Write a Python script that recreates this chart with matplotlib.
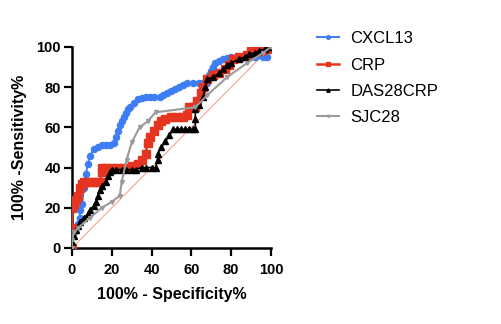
import matplotlib.pyplot as plt

# ROC curves, values in percent
cxcl13_x = [0, 1, 2, 3, 4, 4, 5, 6, 7, 8, 9, 11, 13, 15, 17, 19, 21, 22, 23, 24, 25, 26, 27, 28,
            29, 31, 33, 35, 37, 39, 41, 44, 46, 48, 50, 52, 54, 56, 58, 61, 64, 66, 68, 69, 70,
            71, 72, 74, 76, 78, 80, 83, 86, 89, 92, 94, 96, 98, 100]
cxcl13_y = [0, 8, 10, 12, 15, 19, 22, 30, 37, 42, 46, 49, 50, 51, 51, 51, 52, 55, 58, 61, 63, 65,
            67, 69, 70, 72, 74, 74.5, 75, 75, 75, 75, 76, 77, 78, 79, 80, 81, 82, 82, 82, 82, 82,
            86, 88, 90, 92, 93, 94, 94.5, 95, 95, 95, 95, 95, 96, 95, 95, 100]

crp_x = [0, 0, 0, 1, 2, 3, 4, 5, 6, 8, 10, 12, 14, 15, 15, 17, 20, 23, 26, 28, 30, 33, 35, 37,
         38, 39, 41, 43, 45, 47, 50, 53, 56, 58, 59, 61, 62, 63, 65, 66, 68, 71, 74, 77, 79,
         81, 84, 88, 90, 93, 95, 98, 100]
crp_y = [0, 10, 20, 22, 24, 26, 30, 32, 33, 33, 33, 33, 33, 38, 40, 40, 40, 40, 40, 40, 41, 42,
         44, 47, 52, 55, 58, 61, 63, 64, 65, 65, 65, 66, 70, 70, 70, 73, 77, 80, 84, 86, 87,
         89, 91, 94, 95, 96, 98, 98, 98, 99, 100]

das_x = [0, 0, 1, 2, 3, 4, 6, 8, 9, 11, 12, 13, 14, 15, 17, 18, 19, 20, 22, 25, 27, 30, 32,
         35, 37, 40, 42, 43, 43, 45, 47, 49, 51, 53, 55, 57, 59, 61, 62, 62, 62, 64, 66, 67, 68,
         71, 74, 76, 78, 80, 84, 87, 89, 92, 94, 97, 100]
das_y = [0, 3, 6, 9, 11, 13, 15, 17, 19, 21, 23, 26, 29, 31, 33, 36, 38, 39, 39, 39, 39, 39,
         39, 40, 40, 40, 40, 44, 47, 50, 53, 56, 59, 59, 59, 59, 59, 59, 59, 64, 69, 71, 75, 80,
         84, 85, 87, 89, 91, 92, 94, 95, 96.5, 97, 98, 99, 100]

sjc_x = [0, 0, 1, 3, 9, 15, 20, 24, 25, 27.5, 30, 34, 38, 42, 62, 68, 78, 88, 96, 100]
sjc_y = [0, 4, 8, 10, 15, 20, 23, 26, 33, 44, 52.5, 60, 63, 67.5, 70, 76, 85, 92, 97, 100]

labels = ['CXCL13', 'CRP', 'DAS28CRP', 'SJC28']

plt.rcParams['font.family'] = ['Liberation Sans', 'DejaVu Sans']

fig = plt.figure(figsize=(5.01, 3.24), dpi=100)
ax = fig.add_axes([0.1437, 0.2346, 0.397, 0.6204])

# chance line
ax.plot([0, 100], [0, 100], color='#f2a593', lw=0.8, zorder=1)

ax.plot(cxcl13_x, cxcl13_y, color='#3d7ef5', lw=1.4, marker='o', ms=4.4,
        label=labels[0], zorder=3)
ax.plot(crp_x, crp_y, color='#e5341f', lw=1.8, marker='s', ms=5.2,
        label=labels[1], zorder=4)
ax.plot(das_x, das_y, color='black', lw=1.2, marker='^', ms=4.0,
        label=labels[2], zorder=5)
ax.plot(sjc_x, sjc_y, color='#9a9a9a', lw=1.5, marker='v', ms=2.8,
        label=labels[3], zorder=6)

ax.set_xlim(0, 100)
ax.set_ylim(0, 100)
ax.set_xticks(range(0, 101, 20))
ax.set_yticks(range(0, 101, 20))
for s in ['top', 'right']:
    ax.spines[s].set_visible(False)
for s in ['left', 'bottom']:
    ax.spines[s].set_linewidth(1.8)
ax.tick_params(direction='out', length=6, width=1.6, labelsize=10.5)
ax.tick_params(axis='x', pad=5)
ax.tick_params(axis='y', pad=2)
for lab in ax.get_xticklabels() + ax.get_yticklabels():
    lab.set_fontweight('bold')
ax.set_xlabel('100% - Specificity%', fontsize=11.5, fontweight='bold', labelpad=7)
ax.set_ylabel('100% -Sensitivity%', fontsize=11.5, fontweight='bold', labelpad=7)

handles, labs = ax.get_legend_handles_labels()
fig.legend(handles, labs, loc='upper left', bbox_to_anchor=(0.603, 0.95),
           frameon=False, fontsize=12, handlelength=1.3, handletextpad=0.7,
           labelspacing=0.68, markerscale=0.6)

fig.savefig('out.png', dpi=100)
